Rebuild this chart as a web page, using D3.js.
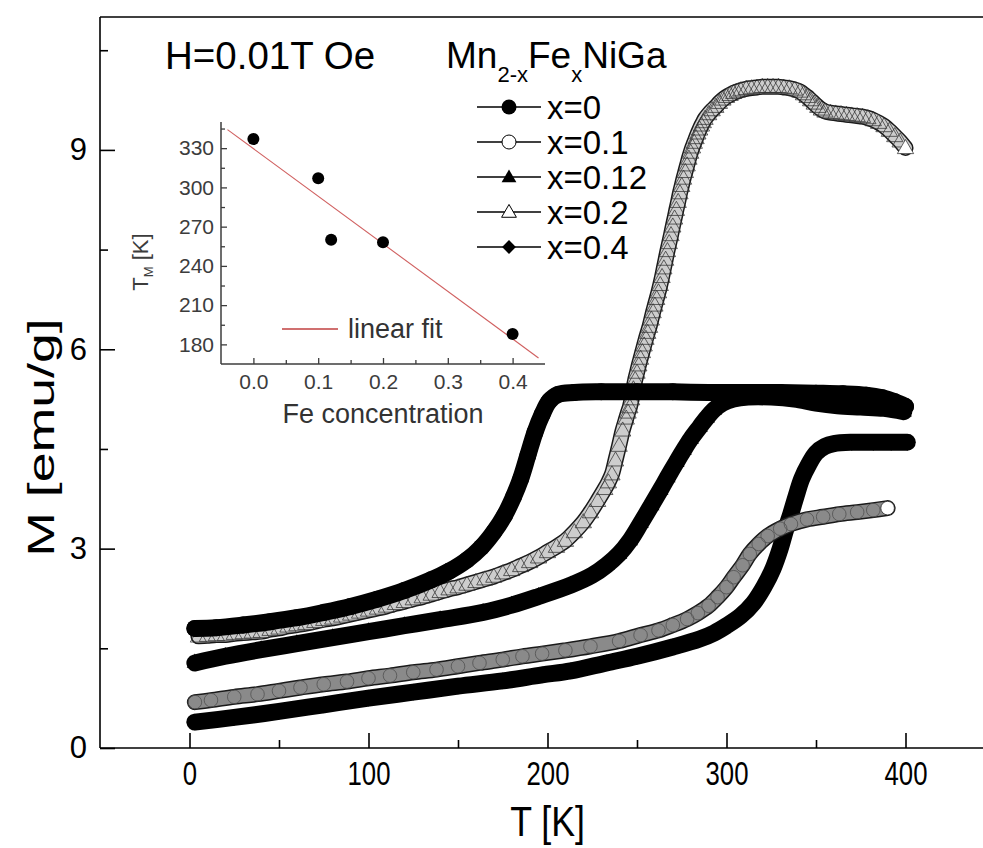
<!DOCTYPE html>
<html><head><meta charset="utf-8">
<script src="https://cdn.jsdelivr.net/npm/d3@7"></script>
<style>body{margin:0;background:#fff;} svg{display:block;font-family:"Liberation Sans", Arial, sans-serif;}</style>
</head><body>
<svg id="c" width="983" height="848"></svg>
<script>
// ---------------- data ----------------
const seriesLabels = ["x=0", "x=0.1", "x=0.12", "x=0.2", "x=0.4"];
const xTicks = [0, 100, 200, 300, 400];
const xMinorTicks = [50, 150, 250, 350];
const yTicks = [0, 3, 6, 9];
const yMinorTicks = [1.5, 4.5, 7.5, 10.5];

const s_x0 = [[3,1.80],[15,1.81],[30,1.85],[45,1.90],[60,1.96],[75,2.04],[90,2.13],[105,2.24],[120,2.37],[135,2.53],[145,2.66],[155,2.83],[163,3.02],[170,3.25],[176,3.5],[181,3.78],[185,4.05],[189,4.4],[193,4.75],[197,5.02],[201,5.22],[206,5.32],[215,5.35],[230,5.36],[250,5.36],[270,5.36],[290,5.35],[310,5.35],[330,5.35],[350,5.34],[365,5.33],[378,5.31],[387,5.27],[394,5.21],[400,5.14]];

const s_x01 = [[3,0.69],[12,0.72],[25,0.77],[38,0.81],[50,0.86],[62,0.91],[75,0.96],[88,1.0],[100,1.05],[112,1.09],[125,1.14],[138,1.18],[150,1.23],[162,1.28],[175,1.33],[186,1.38],[197,1.42],[210,1.47],[224,1.53],[240,1.61],[252,1.70],[262,1.77],[270,1.85],[278,1.94],[284,2.03],[290,2.14],[295,2.27],[300,2.42],[304,2.57],[309,2.75],[313,2.92],[318,3.07],[323,3.19],[330,3.30],[336,3.37],[345,3.44],[354,3.48],[363,3.52],[373,3.55],[382,3.58],[390,3.61]];

const s_x012 = [[3,1.28],[20,1.38],[40,1.48],[60,1.57],[80,1.66],[100,1.75],[120,1.84],[140,1.93],[164,2.04],[180,2.15],[195,2.28],[213,2.45],[225,2.6],[233,2.75],[240,2.92],[246,3.12],[252,3.38],[258,3.65],[263,3.88],[267,4.07],[272,4.3],[276,4.48],[280,4.65],[285,4.83],[289,4.97],[293,5.09],[298,5.19],[304,5.25],[312,5.28],[325,5.28],[338,5.25],[350,5.19],[362,5.15],[375,5.13],[388,5.11],[399,5.06]];

const s_x02 = [[5,1.68],[10,1.69],[15,1.70],[20,1.70],[25,1.72],[30,1.73],[35,1.74],[40,1.75],[45,1.78],[50,1.80],[55,1.83],[60,1.85],[65,1.87],[70,1.90],[75,1.93],[80,1.95],[85,1.98],[90,2.01],[95,2.04],[100,2.07],[105,2.10],[110,2.13],[115,2.17],[120,2.2],[125,2.24],[130,2.27],[135,2.31],[140,2.35],[145,2.39],[150,2.42],[155,2.46],[160,2.50],[165,2.54],[170,2.58],[175,2.63],[180,2.68],[185,2.74],[190,2.80],[195,2.87],[200,2.95],[205,3.03],[210,3.12],[215,3.25],[220,3.4],[224,3.55],[228,3.72],[232,3.9],[234,4.0],[236,4.12],[238,4.33],[240,4.55],[242,4.78],[244,4.96],[245,5.05],[246,5.13],[247,5.25],[248,5.40],[249,5.54],[250,5.65],[251,5.76],[252,5.86],[253,5.96],[254,6.06],[255,6.16],[256,6.25],[257,6.34],[258,6.45],[259,6.56],[260,6.66],[261,6.76],[262,6.86],[263,6.97],[264,7.09],[265,7.22],[266,7.35],[267,7.48],[268,7.6],[269,7.72],[270,7.85],[271,7.97],[272,8.10],[273,8.22],[274,8.35],[275,8.46],[276,8.57],[277,8.67],[278,8.77],[279,8.87],[280,8.96],[281,9.04],[282,9.11],[283,9.18],[284,9.25],[285,9.31],[286,9.37],[287,9.42],[288,9.47],[290,9.54],[292,9.60],[294,9.65],[296,9.71],[298,9.76],[300,9.80],[302,9.83],[304,9.86],[306,9.88],[308,9.90],[311,9.92],[314,9.93],[317,9.94],[320,9.95],[323,9.95],[326,9.95],[329,9.95],[332,9.94],[335,9.93],[338,9.91],[341,9.88],[343,9.84],[345,9.80],[347,9.75],[349,9.70],[351,9.65],[353,9.61],[355,9.58],[358,9.56],[361,9.55],[364,9.54],[367,9.53],[370,9.52],[373,9.51],[376,9.50],[379,9.48],[382,9.45],[385,9.41],[388,9.36],[391,9.29],[394,9.21],[397,9.13],[400,9.03]];

const s_x04 = [[3,0.39],[25,0.46],[50,0.55],[75,0.65],[100,0.75],[125,0.84],[150,0.93],[175,1.01],[197,1.1],[213,1.16],[233,1.28],[250,1.38],[270,1.52],[285,1.64],[293,1.73],[300,1.84],[308,1.99],[315,2.18],[321,2.43],[326,2.7],[330,3.0],[333,3.28],[336,3.53],[339,3.8],[342,4.05],[346,4.27],[350,4.44],[355,4.54],[360,4.58],[370,4.6],[382,4.6],[392,4.6],[401,4.6]];

// inset
const insetFe = [0, 0.1, 0.12, 0.2, 0.4];
const insetTM = [337, 307, 260, 258, 188];
const insetXTicks = [0, 0.1, 0.2, 0.3, 0.4];
const insetXMinor = [0.05, 0.15, 0.25, 0.35];
const insetYTicks = [180, 210, 240, 270, 300, 330];
const insetYMinor = [195, 225, 255, 285, 315, 345];

// ---------------- drawing ----------------
const svg = d3.select("#c");
const x = d3.scaleLinear().domain([-50, 450]).range([100, 995]);
const y = d3.scaleLinear().domain([0, 11]).range([748, 17]);

const line = d3.line().x(d => x(d[0])).y(d => y(d[1])).curve(d3.curveCatmullRom.alpha(0.5));

const tri = d3.symbol().type(d3.symbolTriangle).size(115);
const triS = d3.symbol().type(d3.symbolTriangle).size(95);
const dia = d3.symbol().type(d3.symbolSquare).size(140);
const diaS = d3.symbol().type(d3.symbolSquare).size(95);

const plot = svg.append("g");

function filledBand(data) {
  plot.append("path").attr("d", line(data)).attr("fill", "none")
    .attr("stroke", "#000").attr("stroke-width", 17)
    .attr("stroke-linejoin", "round").attr("stroke-linecap", "round");
}
function openBand(data, inner) {
  plot.append("path").attr("d", line(data)).attr("fill", "none")
    .attr("stroke", "#1a1a1a").attr("stroke-width", 16)
    .attr("stroke-linejoin", "round").attr("stroke-linecap", "round");
  plot.append("path").attr("d", line(data)).attr("fill", "none")
    .attr("stroke", inner).attr("stroke-width", 13)
    .attr("stroke-linejoin", "round").attr("stroke-linecap", "round");
}

// x = 0.4 (filled diamonds)
filledBand(s_x04);
plot.append("g").selectAll("path").data(s_x04).join("path")
  .attr("d", dia).attr("transform", d => `translate(${x(d[0])},${y(d[1])}) rotate(45)`)
  .attr("fill", "#000");

// x = 0.1 (open circles)
openBand(s_x01, "#8a8a8a");
plot.append("g").selectAll("circle").data(s_x01).join("circle")
  .attr("cx", d => x(d[0])).attr("cy", d => y(d[1])).attr("r", 6.8)
  .attr("fill", (d, i) => i === s_x01.length - 1 ? "#fff" : "none")
  .attr("stroke", (d, i) => i === s_x01.length - 1 ? "#222" : "#505050").attr("stroke-width", 0.8);

// x = 0.2 (open triangles)
openBand(s_x02, "#cdcdcd");
plot.append("g").selectAll("path").data(s_x02).join("path")
  .attr("d", tri).attr("transform", d => `translate(${x(d[0])},${y(d[1]) + 1})`)
  .attr("fill", (d, i) => i === s_x02.length - 1 ? "#fff" : "none")
  .attr("stroke", "#333").attr("stroke-width", 0.75);

// x = 0.12 (filled triangles)
filledBand(s_x012);
plot.append("g").selectAll("path").data(s_x012).join("path")
  .attr("d", tri).attr("transform", d => `translate(${x(d[0])},${y(d[1])})`)
  .attr("fill", "#000");

// x = 0 (filled circles)
filledBand(s_x0);
plot.append("g").selectAll("circle").data(s_x0).join("circle")
  .attr("cx", d => x(d[0])).attr("cy", d => y(d[1])).attr("r", 8.5)
  .attr("fill", "#000");

// ---- axes ----
const axG = svg.append("g").attr("stroke", "#000").attr("stroke-width", 1.6);
axG.append("line").attr("x1", x.range()[0]).attr("x2", x.range()[1]).attr("y1", y(0)).attr("y2", y(0));
axG.append("line").attr("x1", x.range()[0]).attr("x2", x.range()[1]).attr("y1", y(11)).attr("y2", y(11));
axG.append("line").attr("x1", x.range()[0]).attr("x2", x.range()[0]).attr("y1", y(0)).attr("y2", y(11));

const xAxis = svg.append("g").attr("transform", `translate(0,${y(0)})`)
  .call(d3.axisBottom(x).tickValues(xTicks).tickSizeInner(-15).tickSizeOuter(0).tickPadding(14).tickFormat(d3.format("d")));
const xAxisMinor = svg.append("g").attr("transform", `translate(0,${y(0)})`)
  .call(d3.axisBottom(x).tickValues(xMinorTicks).tickSizeInner(-8).tickSizeOuter(0).tickFormat(""));
const yAxis = svg.append("g").attr("transform", `translate(${x(-50)},0)`)
  .call(d3.axisLeft(y).tickValues(yTicks).tickSizeInner(-15).tickSizeOuter(0).tickPadding(13).tickFormat(d3.format("d")));
const yAxisMinor = svg.append("g").attr("transform", `translate(${x(-50)},0)`)
  .call(d3.axisLeft(y).tickValues(yMinorTicks).tickSizeInner(-8).tickSizeOuter(0).tickFormat(""));
[xAxis, xAxisMinor, yAxis, yAxisMinor].forEach(g => {
  g.select(".domain").remove();
  g.selectAll("line").attr("stroke", "#000").attr("stroke-width", 1.6);
});
xAxis.selectAll("text").attr("font-size", 33).attr("fill", "#000")
  .attr("font-family", "Liberation Sans, Arial, sans-serif")
  .attr("transform", "scale(0.78,1)");
yAxis.selectAll("text").attr("font-size", 31).attr("fill", "#000")
  .attr("font-family", "Liberation Sans, Arial, sans-serif");

// axis titles
svg.append("text").attr("x", 0).attr("y", 0)
  .attr("transform", `translate(${x(200)},836) scale(0.85,1)`)
  .attr("text-anchor", "middle").attr("font-size", 42).text("T [K]");
svg.append("text")
  .attr("transform", `translate(54,${(y(0) + y(11)) / 2 + 55}) rotate(-90) scale(1.45,1)`)
  .attr("text-anchor", "middle").attr("font-size", 37).text("M [emu/g]");

// field annotation
svg.append("text").attr("x", 165).attr("y", 69).attr("font-size", 38.5).text("H=0.01T Oe");

// compound title
const title = svg.append("text").attr("x", 446).attr("y", 68).attr("font-size", 37);
title.append("tspan").text("Mn");
title.append("tspan").attr("font-size", 22).attr("dy", 14).text("2-x");
title.append("tspan").attr("dy", -14).text("Fe");
title.append("tspan").attr("font-size", 22).attr("dy", 14).text("x");
title.append("tspan").attr("dy", -14).text("NiGa");

// legend
const legRows = [107, 142, 177, 212, 247];
const leg = svg.append("g");
seriesLabels.forEach((lab, i) => {
  const cy = legRows[i];
  leg.append("line").attr("x1", 477).attr("x2", 541).attr("y1", cy).attr("y2", cy)
    .attr("stroke", "#000").attr("stroke-width", 1.3);
  if (i === 0) leg.append("circle").attr("cx", 509).attr("cy", cy).attr("r", 7.5).attr("fill", "#000");
  if (i === 1) leg.append("circle").attr("cx", 509).attr("cy", cy).attr("r", 7).attr("fill", "#fff").attr("stroke", "#000").attr("stroke-width", 1);
  if (i === 2) leg.append("path").attr("d", triS).attr("transform", `translate(509,${cy + 1})`).attr("fill", "#000");
  if (i === 3) leg.append("path").attr("d", triS).attr("transform", `translate(509,${cy + 1})`).attr("fill", "#fff").attr("stroke", "#000").attr("stroke-width", 1);
  if (i === 4) leg.append("path").attr("d", diaS).attr("transform", `translate(509,${cy}) rotate(45)`).attr("fill", "#000");
  leg.append("text").attr("x", 547).attr("y", cy + 11.5).attr("font-size", 33).text(lab);
});

// ---------------- inset ----------------
const ix = d3.scaleLinear().domain([-0.05, 0.45]).range([221, 545]);
const iy = d3.scaleLinear().domain([165, 350]).range([364, 122]);
const inset = svg.append("g");
const insetCol = "#3c3c3c";

// fit line (least squares of inset points)
const mx = d3.mean(insetFe), my = d3.mean(insetTM);
const slope = d3.sum(insetFe.map((v, i) => (v - mx) * (insetTM[i] - my))) / d3.sum(insetFe.map(v => (v - mx) ** 2));
const icpt = my - slope * mx;
const fitX = [-0.04, 0.44];
inset.append("line").attr("x1", ix(fitX[0])).attr("y1", iy(icpt + slope * fitX[0]))
  .attr("x2", ix(fitX[1])).attr("y2", iy(icpt + slope * fitX[1]))
  .attr("stroke", "#d06060").attr("stroke-width", 1.1);

inset.append("line").attr("x1", ix(-0.05)).attr("x2", ix(0.45)).attr("y1", iy(165)).attr("y2", iy(165)).attr("stroke", insetCol).attr("stroke-width", 1.5);
inset.append("line").attr("x1", ix(-0.05)).attr("x2", ix(-0.05)).attr("y1", iy(165)).attr("y2", iy(350)).attr("stroke", insetCol).attr("stroke-width", 1.5);

const ixA = inset.append("g").attr("transform", `translate(0,${iy(165)})`)
  .call(d3.axisBottom(ix).tickValues(insetXTicks).tickSizeInner(-6).tickSizeOuter(0).tickPadding(10).tickFormat(d3.format(".1f")));
const ixM = inset.append("g").attr("transform", `translate(0,${iy(165)})`)
  .call(d3.axisBottom(ix).tickValues(insetXMinor).tickSizeInner(-4).tickSizeOuter(0).tickFormat(""));
const iyA = inset.append("g").attr("transform", `translate(${ix(-0.05)},0)`)
  .call(d3.axisLeft(iy).tickValues(insetYTicks).tickSizeInner(-6).tickSizeOuter(0).tickPadding(7).tickFormat(d3.format("d")));
const iyM = inset.append("g").attr("transform", `translate(${ix(-0.05)},0)`)
  .call(d3.axisLeft(iy).tickValues(insetYMinor).tickSizeInner(-4).tickSizeOuter(0).tickFormat(""));
[ixA, ixM, iyA, iyM].forEach(g => {
  g.select(".domain").remove();
  g.selectAll("line").attr("stroke", insetCol).attr("stroke-width", 1.3);
  g.selectAll("text").attr("font-size", 21).attr("fill", insetCol).attr("font-family", "Liberation Sans, Arial, sans-serif");
});

inset.selectAll("circle.pt").data(insetFe).join("circle").attr("class", "pt")
  .attr("cx", d => ix(d)).attr("cy", (d, i) => iy(insetTM[i])).attr("r", 6).attr("fill", "#000");

inset.append("text").attr("x", (ix(-0.05) + ix(0.45)) / 2).attr("y", 423)
  .attr("text-anchor", "middle").attr("font-size", 27).attr("fill", "#333").text("Fe concentration");
const tml = inset.append("text").attr("transform", "translate(148,262) rotate(-90)")
  .attr("text-anchor", "middle").attr("font-size", 22).attr("fill", insetCol);
tml.append("tspan").text("T");
tml.append("tspan").attr("font-size", 13).attr("dy", 5).text("M");
tml.append("tspan").attr("dy", -5).text(" [K]");

inset.append("line").attr("x1", 282).attr("x2", 338).attr("y1", 329).attr("y2", 329).attr("stroke", "#c04040").attr("stroke-width", 1.3);
inset.append("text").attr("x", 348).attr("y", 338).attr("font-size", 27).attr("fill", "#333").text("linear fit");
</script>
</body></html>
